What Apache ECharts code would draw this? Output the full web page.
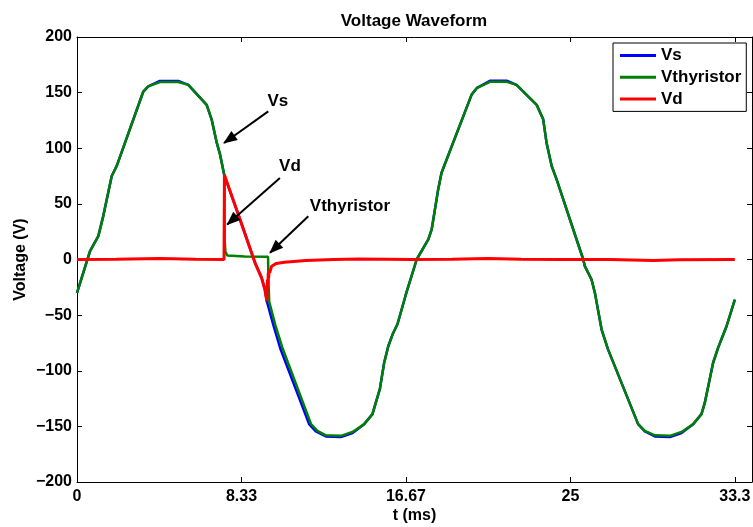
<!DOCTYPE html>
<html>
<head>
<meta charset="utf-8">
<script src="https://cdn.jsdelivr.net/npm/echarts@6/dist/echarts.min.js"></script>
<style>
  html, body { margin: 0; padding: 0; background: #fff; }
  #chart { width: 753px; height: 527px; }
</style>
</head>
<body>
<div id="chart"></div>
<script>
// Source voltage (ms, V)
const tVs = [0, 0.66, 1.08, 1.33, 1.76, 2.01, 3.36, 3.61, 4.20, 5.13, 5.64, 6.57, 6.82, 7.08, 7.24, 7.46,
  8.26, 9.02, 9.35, 9.52, 9.61, 9.95, 10.30, 11.76, 12.10, 12.61, 13.37, 13.96, 14.55, 14.97, 15.14, 15.35,
  15.56, 15.77, 16.02, 16.24, 16.67, 17.21, 17.80, 17.97, 18.30, 18.47, 19.99, 20.25, 20.92, 21.77, 22.27,
  23.29, 23.62, 23.79, 24.05, 24.30, 25.65, 25.73, 26.07, 26.24, 26.58, 26.91, 28.43, 28.77, 29.28, 30.04,
  30.63, 31.22, 31.64, 31.81, 32.23, 32.49, 32.91, 33.33];
const vVs = [-30, 7.5, 21, 39, 75, 84, 151, 155.6, 160.5, 160.5, 157, 139, 126, 105, 95, 76,
  36, -3, -16, -27, -37, -59, -80, -148, -154.5, -159, -159.5, -156, -148, -139, -128.7, -116,
  -93, -78, -66, -58, -31, 0, 18, 27, 63, 78, 148, 154, 160.7, 160.7, 157,
  139, 126, 105, 84, 72, 0, -6, -18, -30, -63, -81, -148, -154.5, -159, -159.5,
  -156, -148, -139, -128.7, -92.8, -79, -60, -36];

// Thyristor voltage (ms, V)
const tVth = [0, 0.66, 1.08, 1.33, 1.76, 2.01, 3.36, 3.61, 4.20, 5.13, 5.64, 6.57, 6.82, 7.08, 7.24, 7.46,
  7.48, 7.52, 7.62, 8.50, 9.68, 9.70, 9.74, 10.05, 10.42, 11.86, 12.18, 12.61, 13.37, 13.96, 14.55, 14.97, 15.14, 15.35,
  15.56, 15.77, 16.02, 16.24, 16.67, 17.21, 17.80, 17.97, 18.30, 18.47, 19.99, 20.25, 20.92, 21.77, 22.27,
  23.29, 23.62, 23.79, 24.05, 24.30, 25.65, 25.73, 26.07, 26.24, 26.58, 26.91, 28.43, 28.77, 29.28, 30.04,
  30.63, 31.22, 31.64, 31.81, 32.23, 32.49, 32.91, 33.33];
const vVth = [-30, 7.5, 21, 39, 75, 84, 151, 155.6, 159.5, 159.5, 157, 139, 126, 105, 95, 76,
  18, 7, 3.5, 2.8, 2.4, -20, -38, -59, -80, -148, -154, -158, -158.5, -155, -148, -139, -128.7, -116,
  -93, -78, -66, -58, -31, 0, 18, 27, 63, 78, 148, 154, 159.7, 159.7, 157,
  139, 126, 105, 84, 72, 0, -6, -18, -30, -63, -81, -148, -154, -158, -158.5,
  -155, -148, -139, -128.7, -92.8, -79, -60, -36];

// Load voltage (ms, V)
const tVd = [0, 2.0, 4.2, 6.0, 7.45, 7.47, 8.26, 9.02, 9.35, 9.52, 9.62, 9.65, 9.67, 9.69, 9.71, 9.73,
  9.76, 9.86, 10.1, 10.5, 11.6, 13.0, 14.3, 17.0, 19.0, 20.8, 22.5, 24.5, 27.0, 29.2, 30.5, 33.33];
const vVd = [0, 0.2, 1.0, 0.2, 0, 76, 36, -3, -16.5, -27, -37.5, -18, -24, -12, -17, -9,
  -12, -6, -3.5, -2.5, -0.8, 0, 0.4, 0, 0.2, 1.0, 0.3, 0, 0, -0.8, -0.3, 0];

// Axis ticks
const xTickStep = 25 / 3;
const xTickLabels = ['0', '8.33', '16.67', '25', '33.3'];
const yTickValues = [-200, -150, -100, -50, 0, 50, 100, 150, 200];

// Arrow annotations (data coordinates)
const noteLabels = ['Vs', 'Vd', 'Vthyristor'];
const noteTextAt = [[10.18, 141.8], [10.79, 83.5], [13.83, 47.8]];
const arrowFrom = [[9.69, 133.1], [10.28, 73.3], [11.72, 38.9]];
const arrowTo = [[7.45, 104.7], [7.61, 31.4], [9.78, 6.0]];

const FONT = 'Liberation Sans, Arial, sans-serif';
const zip = (ts, vs) => ts.map((t, i) => [t, vs[i]]);

function xLabel(v) {
  const k = Math.round(v / xTickStep);
  if (Math.abs(v - k * xTickStep) > 1e-6 || k >= xTickLabels.length) return '';
  return xTickLabels[k];
}
function yLabel(v) {
  return yTickValues.indexOf(v) >= 0 ? String(v).replace('-', '\u2212') : '';
}

const axisCommon = {
  type: 'value',
  nameMoveOverlap: false,
  axisLine: { show: true, onZero: false, lineStyle: { color: '#000', width: 1 } },
  axisTick: { show: true, inside: true, length: 5, lineStyle: { color: '#000', width: 1 } },
  splitLine: { show: false }
};

const chart = echarts.init(document.getElementById('chart'), null, { renderer: 'canvas' });
chart.setOption({
  animation: false,
  backgroundColor: '#fff',
  title: {
    text: 'Voltage Waveform',
    left: 414, top: 13, padding: 0,
    textAlign: 'center',
    textStyle: { fontFamily: FONT, fontSize: 17, fontWeight: 'bold', color: '#000' }
  },
  grid: { left: 77, right: 1, top: 37, bottom: 45, containLabel: false, outerBoundsMode: 'none' },
  legend: {
    data: ['Vs', 'Vthyristor', 'Vd'],
    orient: 'vertical',
    left: 613, top: 43,
    padding: [4, 5, 4, 7],
    itemGap: 4.7,
    icon: 'rect',
    itemWidth: 36, itemHeight: 3,
    backgroundColor: '#fff',
    borderColor: '#000', borderWidth: 1,
    textStyle: { fontFamily: FONT, fontSize: 17, fontWeight: 'bold', color: '#000' },
    selectedMode: false
  },
  xAxis: [
    Object.assign({}, axisCommon, {
      min: 0, max: 34.2, interval: xTickStep,
      name: 't (ms)', nameLocation: 'middle', nameGap: 26,
      nameTextStyle: { fontFamily: FONT, fontSize: 16, fontWeight: 'bold', color: '#000' },
      axisLabel: { show: true, margin: 7, formatter: xLabel, showMaxLabel: false,
        fontFamily: FONT, fontSize: 16, fontWeight: 'bold', color: '#000' }
    }),
    Object.assign({}, axisCommon, {
      position: 'top', min: 0, max: 34.2, interval: xTickStep,
      axisLabel: { show: false }
    })
  ],
  yAxis: [
    Object.assign({}, axisCommon, {
      min: -200, max: 200, interval: 50,
      name: 'Voltage (V)', nameLocation: 'middle', nameGap: 48,
      nameTextStyle: { fontFamily: FONT, fontSize: 16, fontWeight: 'bold', color: '#000' },
      axisLabel: { show: true, margin: 5, formatter: yLabel,
        fontFamily: FONT, fontSize: 16, fontWeight: 'bold', color: '#000' }
    }),
    Object.assign({}, axisCommon, {
      position: 'right', min: -200, max: 200, interval: 50,
      axisLabel: { show: false }
    })
  ],
  series: [
    {
      name: 'Vs', type: 'line', data: zip(tVs, vVs),
      showSymbol: false, symbol: 'none', color: '#0000ff',
      lineStyle: { color: '#0000ff', width: 2.5 }, z: 2
    },
    {
      name: 'Vthyristor', type: 'line', data: zip(tVth, vVth),
      showSymbol: false, symbol: 'none', color: '#008000',
      lineStyle: { color: '#008000', width: 2.5 }, z: 3
    },
    {
      name: 'Vd', type: 'line', data: zip(tVd, vVd),
      showSymbol: false, symbol: 'none', color: '#ff0000',
      lineStyle: { color: '#ff0000', width: 3 }, z: 4,
      markLine: {
        silent: true,
        symbol: ['none', 'triangle'],
        symbolSize: [11, 14],
        symbolOffset: [[0, 0], [0, 6]],
        label: { show: false },
        lineStyle: { color: '#000', width: 2, type: 'solid' },
        itemStyle: { color: '#000' },
        data: arrowFrom.map((p, i) => [{ coord: p }, { coord: arrowTo[i] }])
      },
      markPoint: {
        silent: true,
        symbol: 'circle', symbolSize: 1,
        itemStyle: { color: 'rgba(0,0,0,0)' },
        label: {
          show: true, position: 'inside', formatter: '{b}',
          fontFamily: FONT, fontSize: 17, fontWeight: 'bold', color: '#000'
        },
        data: noteLabels.map((s, i) => ({ name: s, coord: noteTextAt[i] }))
      }
    }
  ]
});
</script>
</body>
</html>
